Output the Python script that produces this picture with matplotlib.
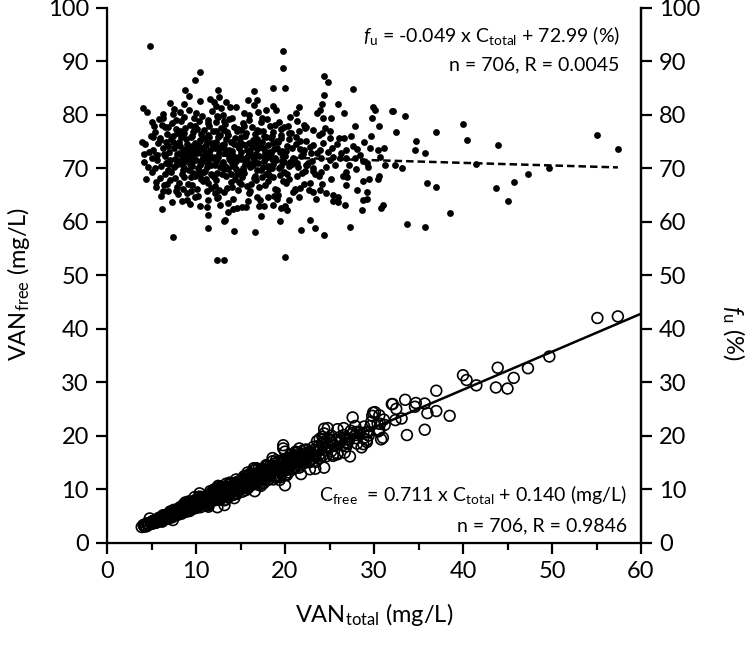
import matplotlib
matplotlib.use("Agg")
import matplotlib.pyplot as plt
from matplotlib.ticker import MultipleLocator

plt.rcParams['font.family'] = ['Lato', 'DejaVu Sans']
plt.rcParams['mathtext.fontset'] = 'custom'
plt.rcParams['mathtext.rm'] = 'Lato'
plt.rcParams['mathtext.it'] = 'Lato:italic'

# Datos: VAN total, fraccion libre fu (%), VAN libre (mg/L)
# -- puntos altos (x >= 30)
total = [32.0, 33.5, 30.6, 32.5, 34.7, 34.6, 35.7, 31.1, 37.0, 40.0, 40.4, 43.9, 55.1, 57.4,
         31.2, 32.4, 33.1, 41.5, 49.7, 47.3, 45.7, 43.7, 45.0, 36.0, 37.0, 30.8, 33.7, 35.7,
         38.5, 30.6, 30.1, 32.1, 30.4, 30.7, 30.5, 31.0]
fu = [80.8, 79.8, 77.9, 76.8, 75.2, 73.4, 72.8, 73.9, 76.8, 78.3, 75.3, 74.4, 76.2, 73.7,
      70.6, 70.7, 70.0, 70.8, 70.1, 68.9, 67.5, 66.3, 63.9, 67.2, 66.6, 62.5, 59.6, 59.1,
      61.6, 68.6, 80.9, 80.7, 73.4, 72.2, 68.1, 63.1]
free = [25.9, 26.7, 23.8, 25.0, 26.1, 25.4, 26.0, 23.0, 28.4, 31.3, 30.4, 32.7, 42.0, 42.3,
        22.0, 22.9, 23.2, 29.4, 34.8, 32.6, 30.8, 29.0, 28.8, 24.2, 24.6, 19.3, 20.1, 21.1,
        23.7, 21.0, 24.4, 25.9, 22.3, 22.2, 20.8, 19.6]

# -- puntos aislados (x < 30)
total += [4.8, 19.8, 19.8, 10.4, 9.85, 8.8, 20.0, 18.6, 24.4, 24.8, 27.6, 12.5, 12.6, 12.0,
          12.2, 16.5, 16.8, 15.8, 24.4, 25.9, 24.2, 4.1, 4.5, 7.5, 13.8, 18.6, 17.9, 21.6,
          29.9, 29.8, 26.6, 25.2, 24.3, 23.6, 27.4, 26.6, 26.1, 25.1, 25.1, 24.2, 23.2, 22.1,
          22.4, 21.2, 28.1, 29.6, 25.4, 26.2, 26.9, 27.9, 28.8, 29.2, 26.9, 26.5, 27.0, 29.4,
          28.8, 26.9, 25.4, 25.9, 25.4, 26.7, 25.9, 28.1, 29.2, 28.8, 29.2, 28.6, 27.3, 24.4,
          23.4, 22.8, 21.8, 19.4, 16.6, 14.3, 13.2, 11.4, 11.4, 7.4, 6.2, 5.5, 6.3, 6.9,
          4.2, 4.2, 5.1, 5.6, 5.2, 5.4, 5.1, 6.3, 6.5, 9.0, 9.9, 9.0, 11.2, 12.1,
          12.5, 13.6, 14.6, 15.2, 15.6, 17.3, 17.1, 17.6, 18.1, 18.7, 20.0, 20.2, 20.4, 19.1,
          21.1, 21.7, 22.8, 23.2, 23.9, 24.6, 24.2, 22.4, 23.2, 23.8, 23.9, 12.4, 13.2, 20.0,
          13.3]
fu += [92.8, 92.0, 88.8, 88.0, 86.5, 84.7, 85.1, 85.1, 87.2, 86.1, 84.8, 84.7, 83.4, 82.5,
       81.7, 84.5, 82.8, 82.7, 83.7, 82.0, 82.0, 81.2, 80.5, 81.1, 81.5, 81.7, 80.9, 81.4,
       81.4, 79.4, 80.3, 79.5, 79.5, 80.3, 76.1, 75.6, 75.6, 75.6, 76.9, 76.7, 77.2, 78.1,
       77.8, 80.3, 73.7, 73.8, 72.2, 71.9, 71.9, 71.9, 71.3, 71.0, 69.4, 68.5, 68.4, 68.1,
       67.7, 66.9, 65.0, 63.7, 63.9, 63.1, 64.6, 65.9, 65.6, 64.0, 64.3, 62.2, 59.1, 57.5,
       58.9, 60.3, 58.5, 60.2, 58.0, 58.3, 60.2, 61.3, 58.9, 57.2, 62.4, 66.5, 65.7, 65.7,
       71.1, 72.7, 69.4, 72.5, 75.9, 76.8, 78.7, 79.5, 77.7, 64.1, 64.7, 65.3, 65.7, 65.3,
       64.7, 61.9, 62.5, 62.7, 62.7, 61.0, 62.9, 62.9, 64.7, 63.2, 63.0, 62.2, 64.0, 64.3,
       65.9, 66.4, 67.3, 65.6, 66.0, 65.4, 67.0, 70.7, 69.5, 68.5, 81.0, 52.9, 52.9, 53.5,
       60.3]
free += [4.5, 18.2, 17.6, 9.2, 8.5, 7.5, 17.0, 15.8, 21.3, 21.4, 23.4, 10.6, 10.5, 9.9,
         10.0, 13.9, 13.9, 13.1, 20.4, 21.2, 19.8, 3.3, 3.6, 6.1, 11.2, 15.2, 14.5, 17.6,
         24.3, 23.7, 21.4, 20.0, 19.3, 19.0, 20.9, 20.1, 19.7, 19.0, 19.3, 18.6, 17.9, 17.3,
         17.4, 17.0, 20.7, 21.8, 18.3, 18.8, 19.3, 20.1, 20.5, 20.7, 18.7, 18.2, 18.5, 20.0,
         19.5, 18.0, 16.5, 16.5, 16.2, 16.8, 16.7, 18.5, 19.2, 18.4, 18.8, 17.8, 16.1, 14.0,
         13.8, 13.7, 12.8, 11.7, 9.6, 8.3, 7.9, 7.0, 6.7, 4.2, 3.9, 3.7, 4.1, 4.5,
         3.0, 3.1, 3.5, 4.1, 3.9, 4.1, 4.0, 5.0, 5.1, 5.8, 6.4, 5.9, 7.4, 7.9,
         8.1, 8.4, 9.1, 9.5, 9.8, 10.6, 10.8, 11.1, 11.7, 11.8, 12.6, 12.6, 13.1, 12.3,
         13.9, 14.4, 15.3, 15.2, 15.8, 16.1, 16.2, 15.8, 16.1, 16.3, 19.4, 6.6, 7.0, 10.7,
         8.0]

# -- nucleo denso, por franjas de VAN total (total, fu, free)
core = [
    # 4-5
    (4.3, 74.5, 3.2), (4.6, 70.2, 3.2), (4.9, 76.1, 3.7), (4.4, 68.0, 3.0), (4.7, 73.0, 3.4), (3.9, 75.0, 2.9),
    # 5-6
    (5.2, 73.4, 3.8), (5.4, 70.1, 3.8), (5.7, 74.8, 4.3), (5.9, 68.2, 4.0), (5.3, 77.9, 4.1),
    (5.6, 71.6, 4.0), (5.8, 79.3, 4.6), (5.5, 67.4, 3.7), (5.1, 72.0, 3.7), (5.9, 75.6, 4.5),
    # 6-7
    (6.1, 70.5, 4.3), (6.3, 73.8, 4.6), (6.5, 68.9, 4.5), (6.7, 76.4, 5.1), (6.9, 71.2, 4.9),
    (6.2, 78.1, 4.8), (6.4, 66.8, 4.3), (6.6, 74.9, 4.9), (6.8, 69.7, 4.7), (6.0, 75.3, 4.5),
    (6.3, 80.2, 5.1), (6.5, 72.3, 4.7), (6.7, 67.1, 4.5), (6.9, 77.8, 5.4), (6.1, 64.9, 4.0), (6.6, 71.0, 4.7),
    (6.4, 72.6, 4.6), (6.8, 74.1, 5.0),
    # 7-8
    (7.0, 73.1, 5.1), (7.2, 69.4, 5.0), (7.4, 76.0, 5.6), (7.6, 71.8, 5.5), (7.8, 74.6, 5.8),
    (7.1, 67.9, 4.8), (7.3, 78.4, 5.7), (7.5, 70.3, 5.3), (7.7, 65.8, 5.1), (7.9, 72.7, 5.7),
    (7.2, 75.5, 5.4), (7.4, 80.1, 5.9), (7.6, 68.2, 5.2), (7.8, 77.3, 6.0), (7.0, 70.9, 5.0),
    (7.3, 63.7, 4.7), (7.5, 73.9, 5.5), (7.7, 79.0, 6.1), (7.9, 66.5, 5.3), (7.1, 82.3, 5.8),
    (7.1, 71.5, 5.1), (7.4, 74.9, 5.5), (7.7, 70.6, 5.4), (7.9, 76.6, 6.1),
    # 8-9
    (8.0, 71.4, 5.7), (8.2, 74.2, 6.1), (8.4, 69.0, 5.8), (8.6, 76.7, 6.6), (8.8, 72.5, 6.4),
    (8.1, 67.3, 5.5), (8.3, 78.8, 6.5), (8.5, 73.3, 6.2), (8.7, 70.1, 6.1), (8.9, 75.4, 6.7),
    (8.0, 65.2, 5.2), (8.2, 80.6, 6.6), (8.4, 72.0, 6.0), (8.6, 68.4, 5.9), (8.8, 77.6, 6.8),
    (8.1, 74.9, 6.1), (8.3, 70.8, 5.9), (8.5, 66.1, 5.6), (8.7, 79.7, 6.9), (8.9, 71.9, 6.4),
    (8.4, 63.8, 5.4), (8.6, 82.1, 7.1),
    (8.1, 72.9, 5.9), (8.3, 75.8, 6.3), (8.5, 69.7, 5.9), (8.8, 73.7, 6.5), (8.2, 77.0, 6.3), (8.6, 71.2, 6.1),
    # 9-10
    (9.0, 72.8, 6.6), (9.2, 69.6, 6.4), (9.4, 75.9, 7.1), (9.6, 71.1, 6.8), (9.8, 73.7, 7.2),
    (9.1, 67.0, 6.1), (9.3, 78.2, 7.3), (9.5, 70.4, 6.7), (9.7, 76.8, 7.4), (9.9, 68.5, 6.8),
    (9.0, 74.6, 6.7), (9.2, 81.0, 7.5), (9.4, 65.7, 6.2), (9.6, 73.0, 7.0), (9.8, 79.4, 7.8),
    (9.1, 71.7, 6.5), (9.3, 63.4, 5.9), (9.5, 76.1, 7.2), (9.7, 69.2, 6.7), (9.9, 74.8, 7.4),
    (9.2, 83.5, 7.7), (9.4, 72.1, 6.8), (9.6, 66.9, 6.4), (9.8, 77.2, 7.6),
    (9.1, 73.6, 6.7), (9.3, 70.9, 6.6), (9.5, 74.2, 7.0), (9.7, 72.3, 7.0), (9.9, 77.9, 7.7), (9.4, 68.3, 6.4),
    # 10-11
    (10.0, 71.5, 7.2), (10.2, 74.3, 7.6), (10.4, 68.7, 7.1), (10.6, 76.5, 8.1), (10.8, 72.2, 7.8),
    (10.1, 66.2, 6.7), (10.3, 78.9, 8.1), (10.5, 70.6, 7.4), (10.7, 73.9, 7.9), (10.9, 69.3, 7.6),
    (10.0, 80.4, 8.0), (10.2, 64.8, 6.6), (10.4, 75.1, 7.8), (10.6, 71.0, 7.5), (10.8, 67.6, 7.3),
    (10.1, 77.4, 7.8), (10.3, 73.2, 7.5), (10.5, 62.9, 6.6), (10.7, 79.8, 8.5), (10.9, 74.0, 8.1),
    (10.2, 70.0, 7.1), (10.4, 82.6, 8.6), (10.6, 68.1, 7.2), (10.8, 75.7, 8.2),
    (10.1, 72.8, 7.4), (10.3, 69.5, 7.2), (10.5, 75.3, 7.9), (10.7, 71.6, 7.7), (10.9, 77.1, 8.4), (10.4, 73.6, 7.7),
    # 11-12
    (11.0, 73.0, 8.0), (11.2, 70.2, 7.9), (11.4, 76.3, 8.7), (11.6, 71.9, 8.3), (11.8, 74.7, 8.8),
    (11.1, 68.0, 7.5), (11.3, 79.1, 8.9), (11.5, 72.6, 8.3), (11.7, 66.4, 7.8), (11.9, 77.0, 9.2),
    (11.0, 69.5, 7.6), (11.2, 75.2, 8.4), (11.4, 64.1, 7.3), (11.6, 73.5, 8.5), (11.8, 80.8, 9.5),
    (11.1, 71.3, 7.9), (11.3, 67.2, 7.6), (11.5, 78.0, 9.0), (11.7, 70.7, 8.3), (11.9, 74.1, 8.8),
    (11.2, 62.8, 7.0), (11.4, 72.4, 8.3), (11.6, 83.0, 9.6), (11.8, 68.8, 8.1),
    (11.1, 74.4, 8.3), (11.3, 71.0, 8.0), (11.5, 75.9, 8.7), (11.7, 69.0, 8.1), (11.9, 72.0, 8.6), (11.4, 78.4, 8.9),
    # 12-13
    (12.0, 72.0, 8.6), (12.2, 75.0, 9.2), (12.4, 69.1, 8.6), (12.6, 73.6, 9.3), (12.8, 77.5, 9.9),
    (12.1, 66.7, 8.1), (12.3, 71.4, 8.8), (12.5, 79.6, 10.0), (12.7, 70.3, 8.9), (12.9, 74.4, 9.6),
    (12.0, 68.3, 8.2), (12.2, 76.9, 9.4), (12.4, 64.5, 8.0), (12.6, 72.9, 9.2), (12.8, 81.2, 10.4),
    (12.1, 73.8, 8.9), (12.3, 67.8, 8.3), (12.5, 75.8, 9.5), (12.7, 63.2, 8.0), (12.9, 70.9, 9.1),
    (12.2, 78.6, 9.6), (12.4, 71.7, 8.9), (12.6, 66.0, 8.3), (12.8, 74.0, 9.5),
    (12.1, 70.6, 8.5), (12.3, 74.2, 9.1), (12.5, 72.2, 9.0), (12.7, 76.2, 9.7), (12.9, 68.9, 8.9), (12.4, 79.8, 9.9),
    # 13-14
    (13.0, 71.2, 9.3), (13.2, 74.5, 9.8), (13.4, 68.6, 9.2), (13.6, 76.2, 10.4), (13.8, 72.3, 10.0),
    (13.1, 65.5, 8.6), (13.3, 78.3, 10.4), (13.5, 70.0, 9.5), (13.7, 73.4, 10.1), (13.9, 67.4, 9.4),
    (13.0, 80.0, 10.4), (13.2, 69.8, 9.2), (13.4, 75.4, 10.1), (13.6, 63.6, 8.6), (13.8, 71.6, 9.9),
    (13.1, 77.1, 10.1), (13.3, 72.9, 9.7), (13.5, 66.3, 9.0), (13.7, 79.2, 10.9), (13.9, 74.9, 10.4),
    (13.4, 82.4, 11.0), (13.6, 69.9, 9.5),
    (13.1, 73.9, 9.7), (13.3, 70.4, 9.4), (13.5, 76.8, 10.4), (13.7, 71.9, 9.9), (13.9, 69.0, 9.6), (13.2, 78.9, 10.4),
    # 14-15
    (14.0, 72.6, 10.2), (14.2, 70.5, 10.0), (14.4, 75.6, 10.9), (14.6, 68.9, 10.1), (14.8, 73.8, 10.9),
    (14.1, 66.6, 9.4), (14.3, 77.8, 11.1), (14.5, 71.3, 10.3), (14.7, 74.1, 10.9), (14.9, 69.4, 10.3),
    (14.0, 79.5, 11.1), (14.2, 64.3, 9.1), (14.4, 72.1, 10.4), (14.6, 76.9, 11.2), (14.8, 67.5, 10.0),
    (14.1, 73.3, 10.3), (14.3, 70.7, 10.1), (14.5, 81.4, 11.8), (14.7, 65.9, 9.7), (14.9, 75.0, 11.2),
    (14.2, 62.4, 8.9), (14.6, 71.8, 10.5),
    (14.1, 71.0, 10.0), (14.3, 74.6, 10.7), (14.5, 69.9, 10.1), (14.7, 77.3, 11.4), (14.9, 72.3, 10.8), (14.4, 68.0, 9.8),
    # 15-16
    (15.0, 71.7, 10.8), (15.2, 74.6, 11.3), (15.4, 69.2, 10.7), (15.6, 76.6, 11.9), (15.8, 72.4, 11.4),
    (15.1, 67.1, 10.1), (15.3, 78.5, 12.0), (15.5, 70.8, 11.0), (15.7, 73.5, 11.5), (15.9, 65.4, 10.4),
    (15.0, 75.9, 11.4), (15.2, 68.3, 10.4), (15.4, 80.3, 12.4), (15.6, 72.0, 11.2), (15.8, 63.9, 10.1),
    (15.1, 77.2, 11.7), (15.3, 70.1, 10.7), (15.5, 74.3, 11.5), (15.7, 66.7, 10.5), (15.9, 79.0, 12.6),
    (15.1, 73.0, 11.0), (15.3, 69.6, 10.6), (15.5, 76.1, 11.8), (15.7, 71.4, 11.2), (15.9, 74.8, 11.9), (15.4, 78.0, 12.0),
    # 16-17
    (16.0, 72.9, 11.7), (16.2, 70.4, 11.4), (16.4, 75.3, 12.3), (16.6, 68.6, 11.4), (16.8, 73.7, 12.4),
    (16.1, 65.8, 10.6), (16.3, 77.7, 12.7), (16.5, 71.5, 11.8), (16.7, 74.8, 12.5), (16.9, 69.7, 11.8),
    (16.0, 79.9, 12.8), (16.2, 67.0, 10.9), (16.4, 72.2, 11.8), (16.6, 76.4, 12.7), (16.8, 64.6, 10.9),
    (16.1, 73.1, 11.8), (16.3, 70.9, 11.6), (16.5, 81.8, 13.5), (16.7, 67.9, 11.3), (16.9, 75.5, 12.8),
    (16.1, 70.2, 11.3), (16.3, 74.0, 12.1), (16.5, 68.2, 11.3), (16.7, 72.6, 12.1), (16.9, 77.2, 13.0), (16.4, 70.6, 11.6),
    # 17-18
    (17.0, 71.0, 12.1), (17.2, 74.0, 12.7), (17.4, 68.4, 11.9), (17.6, 76.0, 13.4), (17.8, 72.7, 12.9),
    (17.1, 66.5, 11.4), (17.3, 78.7, 13.6), (17.5, 70.3, 12.3), (17.7, 73.3, 13.0), (17.9, 69.0, 12.4),
    (17.0, 80.5, 13.7), (17.2, 64.0, 11.0), (17.4, 75.0, 13.1), (17.6, 71.4, 12.6), (17.8, 66.9, 11.9),
    (17.1, 77.0, 13.2), (17.5, 73.9, 12.9), (17.9, 75.8, 13.6),
    (17.1, 72.3, 12.4), (17.3, 69.7, 12.1), (17.5, 76.9, 13.5), (17.7, 71.7, 12.7), (17.9, 73.0, 13.1), (17.4, 79.4, 13.8),
    # 18-19
    (18.0, 72.1, 13.0), (18.2, 69.8, 12.7), (18.4, 75.7, 13.9), (18.6, 70.9, 13.2), (18.8, 73.6, 13.8),
    (18.1, 67.7, 12.3), (18.3, 77.9, 14.3), (18.5, 71.8, 13.3), (18.7, 74.7, 14.0), (18.9, 66.2, 12.5),
    (18.0, 79.3, 14.3), (18.2, 68.7, 12.5), (18.4, 72.8, 13.4), (18.6, 76.8, 14.3), (18.8, 64.9, 12.2),
    (18.1, 74.4, 13.5), (18.5, 70.0, 13.0), (18.9, 78.1, 14.8),
    (18.1, 70.4, 12.7), (18.3, 73.1, 13.4), (18.5, 76.0, 14.1), (18.7, 68.4, 12.8), (18.9, 72.0, 13.6),
    # 19-20
    (19.0, 71.6, 13.6), (19.2, 74.9, 14.4), (19.4, 68.8, 13.3), (19.6, 76.3, 15.0), (19.8, 72.5, 14.4),
    (19.1, 66.0, 12.6), (19.3, 78.6, 15.2), (19.5, 70.5, 13.7), (19.7, 73.2, 14.4), (19.9, 69.3, 13.8),
    (19.0, 80.9, 15.4), (19.2, 65.1, 12.5), (19.4, 73.0, 14.2), (19.6, 77.4, 15.2), (19.8, 67.6, 13.4),
    (19.1, 75.2, 14.4), (19.5, 62.6, 12.2), (19.9, 71.1, 14.1),
    (19.1, 73.8, 14.1), (19.3, 70.1, 13.5), (19.5, 75.6, 14.7), (19.7, 71.3, 14.0), (19.9, 77.8, 15.5),
    # 20-21
    (20.0, 72.3, 14.5), (20.2, 69.0, 13.9), (20.4, 75.5, 15.4), (20.6, 71.2, 14.7), (20.8, 73.9, 15.4),
    (20.1, 67.3, 13.5), (20.3, 78.0, 15.8), (20.5, 70.4, 14.4), (20.7, 76.6, 15.9), (20.9, 65.6, 13.7),
    (20.2, 74.2, 15.0), (20.4, 68.1, 13.9), (20.6, 79.6, 16.4), (20.8, 70.9, 14.7),
    (20.1, 73.2, 14.7), (20.5, 76.7, 15.7), (20.9, 72.0, 15.0),
    # 21-22
    (21.0, 71.8, 15.1), (21.2, 74.6, 15.8), (21.4, 68.5, 14.7), (21.6, 76.9, 16.6), (21.8, 72.4, 15.8),
    (21.1, 66.2, 14.0), (21.3, 78.8, 16.8), (21.5, 70.2, 15.1), (21.7, 73.6, 16.0), (21.9, 69.1, 15.1),
    (21.2, 75.8, 16.1), (21.6, 64.7, 14.0), (21.3, 71.0, 15.1), (21.7, 75.2, 16.3),
    # 22-23
    (22.0, 72.6, 16.0), (22.2, 69.5, 15.4), (22.4, 75.1, 16.8), (22.6, 71.0, 16.0), (22.8, 74.0, 16.9),
    (22.1, 67.0, 14.8), (22.3, 77.5, 17.3), (22.5, 70.7, 15.9), (22.7, 65.9, 15.0), (22.9, 72.9, 16.7),
    (22.1, 73.4, 16.2),
    # 23-24
    (23.0, 71.3, 16.4), (23.2, 74.4, 17.3), (23.4, 68.9, 16.1), (23.6, 72.8, 17.2), (23.8, 76.2, 18.1),
    (23.1, 70.1, 16.2), (23.5, 64.3, 15.1), (23.9, 73.5, 17.6),
    # 24-26
    (24.0, 72.0, 17.3), (24.3, 74.8, 18.2), (24.6, 70.3, 17.3), (24.8, 73.1, 18.1), (24.1, 69.4, 16.7),
    (24.5, 77.6, 19.0), (25.0, 71.6, 17.9), (25.3, 73.8, 18.7), (25.6, 70.7, 18.1), (25.8, 74.5, 19.2),
    (25.2, 68.0, 17.1),
    # 26-30
    (26.3, 72.8, 19.1), (26.8, 73.5, 19.7), (27.2, 70.6, 19.2), (27.6, 74.2, 20.5), (28.0, 69.8, 19.5),
    (28.4, 72.5, 20.6), (28.9, 75.0, 21.7), (29.3, 70.2, 20.6), (29.7, 76.1, 22.6), (27.9, 78.0, 21.8),
]
total += [p[0] for p in core]
fu += [p[1] for p in core]
free += [p[2] for p in core]

# Rectas de regresion (de las ecuaciones de la figura)
slope_free, icpt_free = 0.711, 0.140
slope_fu, icpt_fu = -0.049, 72.99

fig = plt.figure(figsize=(7.52, 6.46), dpi=100)
ax = fig.add_axes([107/752, 103.5/646, 534/752, 534.5/646])

ax.scatter(total, fu, s=24, c='black', linewidths=0, zorder=2)
ax.scatter(total, free, s=60, facecolors='none', edgecolors='black', linewidths=1.2, zorder=2)

x0, x1 = min(total), 60
ax.plot([x0, x1], [slope_free*x0 + icpt_free, slope_free*x1 + icpt_free], color='black', lw=1.8, zorder=3)
x1d = max(total)
ax.plot([x0, x1d], [slope_fu*x0 + icpt_fu, slope_fu*x1d + icpt_fu], color='black', lw=1.8,
        ls=(0, (3, 1.6)), zorder=3)

ax.set_xlim(0, 60)
ax.set_ylim(0, 100)
ax.xaxis.set_major_locator(MultipleLocator(10))
ax.xaxis.set_minor_locator(MultipleLocator(5))
ax.yaxis.set_major_locator(MultipleLocator(10))
ax.spines['top'].set_visible(False)
for s in ['left', 'bottom', 'right']:
    ax.spines[s].set_linewidth(1.6)
ax.tick_params(which='major', direction='out', length=8, width=1.6, labelsize=17, pad=5)
ax.tick_params(which='minor', direction='out', length=5, width=1.6)

ax2 = ax.twinx()
ax2.set_ylim(0, 100)
ax2.yaxis.set_major_locator(MultipleLocator(10))
ax2.spines['top'].set_visible(False)
ax2.spines['right'].set_linewidth(1.6)
ax2.tick_params(direction='out', length=8, width=1.6, labelsize=17, pad=5)

ax.set_xlabel(r'VAN$_\mathrm{total}$ (mg/L)', fontsize=17, labelpad=14)
fig.text(19/752, 1 - 284/646, r'VAN$_\mathrm{free}$ (mg/L)', fontsize=17, rotation=90,
         ha='center', va='center')
fig.text(733/752, 1 - 333/646, r'$\mathit{f}_\mathrm{u}$ (%)', fontsize=17, rotation=270,
         ha='center', va='center')

ax.text(57.6, 93.7, r'$\mathit{f}_\mathrm{u}$ = -0.049 x C$_\mathrm{total}$ + 72.99 (%)',
        fontsize=14, ha='right', va='baseline')
ax.text(57.6, 88.3, 'n = 706, R = 0.0045', fontsize=14, ha='right', va='baseline')
ax.text(58.4, 7.8, r'C$_\mathrm{free}$  = 0.711 x C$_\mathrm{total}$ + 0.140 (mg/L)',
        fontsize=14, ha='right', va='baseline')
ax.text(58.4, 2.0, 'n = 706, R = 0.9846', fontsize=14, ha='right', va='baseline')

fig.savefig('out.png', dpi=100)
